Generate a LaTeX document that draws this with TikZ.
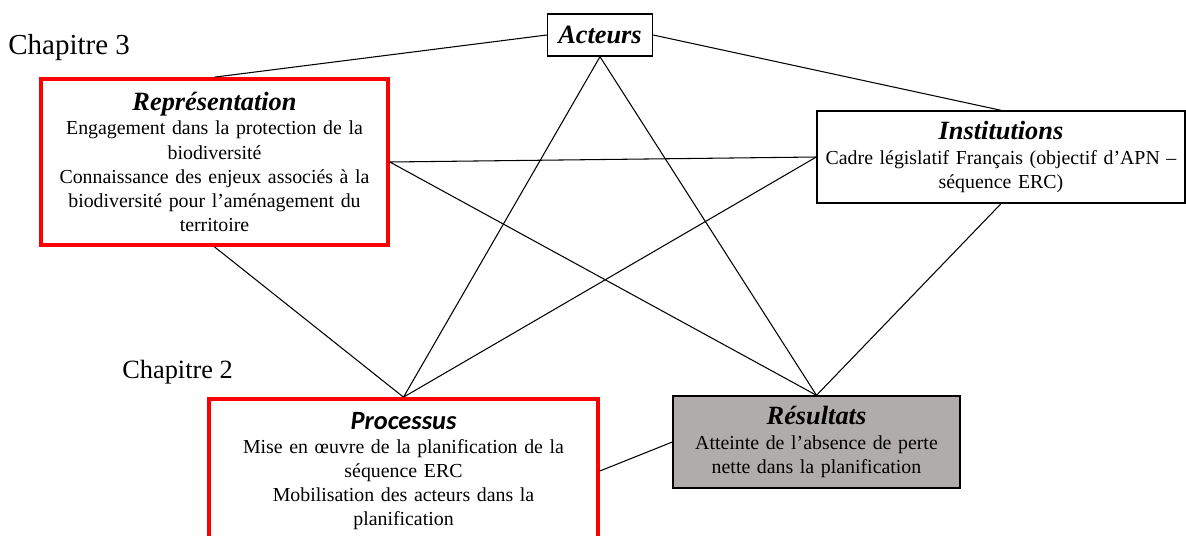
\documentclass[tikz,border=0pt]{standalone}
\usepackage{fontspec}
\setmainfont{Liberation Serif}
\newfontfamily\procfont{Carlito}
\usetikzlibrary{positioning}
\definecolor{resgray}{RGB}{176,172,171}
\newcommand{\boxtitle}[1]{{\fontsize{15}{17.5}\selectfont\bfseries\itshape #1}}

\begin{document}
\begin{tikzpicture}[ font=\fontsize{11.3}{13.7}\selectfont, box/.style={draw,
      align=center, inner sep=2pt}, redbox/.style={box, draw=red, line
      width=2.1pt}, blackbox/.style={box, line width=0.8pt},
      link/.style={line width=0.6pt}, chap/.style={anchor=west, inner sep=0pt} ]

    \clip (0,0) rectangle (23.72,-10.7);

    % Chapter labels
    \node[chap, font=\fontsize{16.5}{18}\selectfont] (ch3) at (0.16,-0.96)
    {Chapitre 3}; \node[chap, font=\fontsize{15}{17}\selectfont] (ch2) at
    (2.44,-7.44) {Chapitre 2};

    % Boxes
    \node[blackbox, minimum width=2.1cm, minimum height=0.84cm] (act) at
    (12.0,-0.70) {\boxtitle{Acteurs}};

    \node[redbox, minimum width=6.94cm, minimum height=3.32cm, text width=6.6cm]
    (rep) at (4.29,-3.24) {\boxtitle{Représentation}\\ Engagement dans la
    protection de la\\ biodiversité\\ Connaissance des enjeux associés à la\\
    biodiversité pour l’aménagement du\\ territoire};

    \node[blackbox, minimum width=7.36cm, minimum height=1.84cm, text
    width=7.2cm] (inst) at (20.02,-3.14) {\boxtitle{Institutions}\\ Cadre
    législatif Français (objectif d’APN –\\ séquence ERC)};

    \node[redbox, minimum width=7.78cm, minimum height=2.88cm, text width=7.4cm]
    (proc) at (8.07,-9.42) {{\fontsize{15}{17.5}\selectfont\procfont\bfseries
    \itshape Processus}\\ Mise en œuvre de la planification de la\\ séquence
    ERC\\ Mobilisation des acteurs dans la\\ planification};

    \node[blackbox, fill=resgray, minimum width=5.74cm, minimum height=1.84cm,
    text width=5.5cm] (res) at (16.33,-8.84) {\boxtitle{Résultats}\\ Atteinte
    de l’absence de perte\\ nette dans la planification};

    % Links
    \draw[link] (act.west) -- (rep.north); \draw[link] (act.east) --
    (inst.north); \draw[link] (act.south) -- (proc.north); \draw[link]
    (act.south) -- (res.north); \draw[link] (rep.east) -- (inst.west);
    \draw[link] (rep.east) -- (res.north); \draw[link] (rep.south) --
    (proc.north); \draw[link] (inst.west) -- (proc.north); \draw[link]
    (inst.south) -- (res.north); \draw[link] (proc.east) -- (res.west);

  \end{tikzpicture}
\end{document}
